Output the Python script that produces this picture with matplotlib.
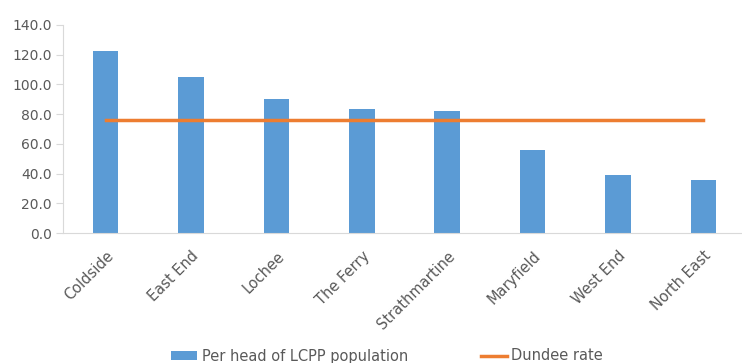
import matplotlib
matplotlib.use("Agg")
import matplotlib.pyplot as plt
import numpy as np

# Rate per head of LCPP population by ward, against the city-wide rate
wards = ["Coldside", "East End", "Lochee", "The Ferry", "Strathmartine",
         "Maryfield", "West End", "North East"]
per_head = [122.5, 105.3, 90.2, 83.4, 82.1, 55.9, 39.0, 35.7]
dundee_rate = [76.0] * len(wards)
y_ticks = [0, 20, 40, 60, 80, 100, 120, 140]

BLUE = "#5B9BD5"
ORANGE = "#ED7D31"
TEXT = "#595959"
AXIS = "#D9D9D9"

plt.rcParams['font.family'] = ['DejaVu Sans']

fig = plt.figure(figsize=(7.42, 3.63), dpi=100)
ax = fig.add_axes([63 / 742, 1 - 233 / 363, 683 / 742, 208 / 363])

x = np.arange(len(wards))
bars = ax.bar(x, per_head, width=0.30, color=BLUE,
              label="Per head of LCPP population", zorder=2)
line, = ax.plot(x, dundee_rate, color=ORANGE, linewidth=2.5,
                label="Dundee rate", zorder=3)

ax.set_xlim(-0.5, len(wards) - 0.5)
ax.set_ylim(0, 140)
ax.set_yticks(y_ticks)
ax.set_yticklabels([f"{v:.1f}" for v in y_ticks])
ax.set_xticks(x)
ax.set_xticklabels(wards, rotation=45, ha="right", rotation_mode="anchor")

for side in ["top", "right"]:
    ax.spines[side].set_visible(False)
ax.spines["left"].set_color(AXIS)
ax.spines["bottom"].set_color(AXIS)
ax.tick_params(axis="y", colors=TEXT, labelsize=10, length=5, color=AXIS, pad=3)
ax.tick_params(axis="x", colors=TEXT, labelsize=10.5, length=0, pad=11)

fig.legend(handles=[bars, line], loc="center",
           bbox_to_anchor=(387 / 742, 1 - 356 / 363), ncol=2,
           frameon=False, fontsize=10.5, labelcolor=TEXT, handlelength=1.8,
           handleheight=0.55, columnspacing=5.0, handletextpad=0.3)

fig.savefig("out.png", dpi=100)
